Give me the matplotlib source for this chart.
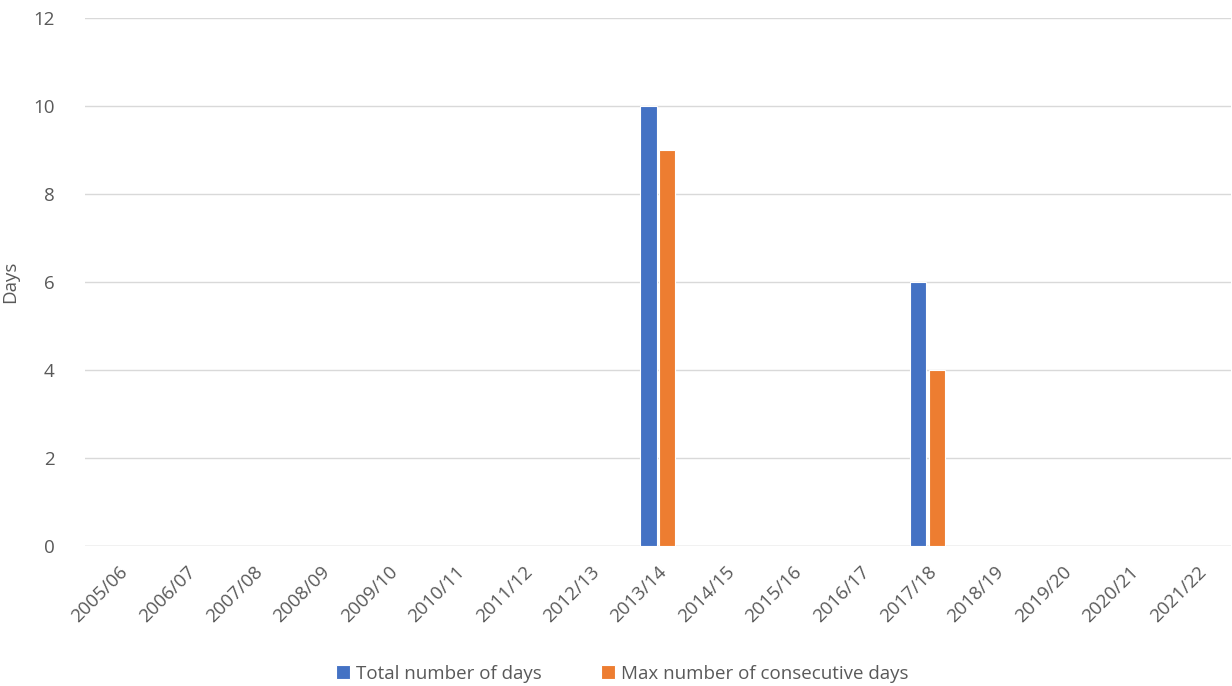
import matplotlib.pyplot as plt
import numpy as np

plt.rcParams['font.family'] = ['Open Sans', 'DejaVu Sans']

seasons = ['2005/06', '2006/07', '2007/08', '2008/09', '2009/10', '2010/11',
           '2011/12', '2012/13', '2013/14', '2014/15', '2015/16', '2016/17',
           '2017/18', '2018/19', '2019/20', '2020/21', '2021/22']
total_days = [0, 0, 0, 0, 0, 0, 0, 0, 10, 0, 0, 0, 6, 0, 0, 0, 0]
max_consecutive = [0, 0, 0, 0, 0, 0, 0, 0, 9, 0, 0, 0, 4, 0, 0, 0, 0]

txt = '#595959'
fig = plt.figure(figsize=(12.32, 6.86), dpi=100)
ax = fig.add_axes([0.069, 0.204, 0.93, 0.770])

x = np.arange(len(seasons))
w = 0.24
off = 0.14
ax.bar(x - off, total_days, w, color='#4472C4', edgecolor='white', linewidth=0.8,
       label='Total number of days', zorder=3)
ax.bar(x + off, max_consecutive, w, color='#ED7D31', edgecolor='white', linewidth=0.8,
       label='Max number of consecutive days', zorder=3)

ax.set_xlim(-0.5, len(seasons) - 0.5)
ax.set_ylim(0, 12)
ax.set_yticks(range(0, 13, 2))
ax.yaxis.grid(True, color='#D9D9D9', linewidth=1, zorder=0)
for s in ax.spines.values():
    s.set_visible(False)
ax.axhline(0, color='#D9D9D9', linewidth=1, zorder=2)
ax.tick_params(axis='both', length=0, colors=txt, labelsize=13.5)
ax.tick_params(axis='y', pad=22)
ax.tick_params(axis='x', pad=12)
ax.set_xticks(x)
ax.set_xticklabels(seasons, rotation=45, ha='right', rotation_mode='anchor')
ax.set_ylabel('Days', color=txt, fontsize=13.5, labelpad=10)

fig.legend(loc='lower center', bbox_to_anchor=(0.505, -0.02), ncol=2, frameon=False,
           fontsize=13.5, labelcolor=txt, handlelength=0.75, handleheight=0.75,
           handletextpad=0.3, columnspacing=3.2)

fig.savefig('out.png', dpi=100)
